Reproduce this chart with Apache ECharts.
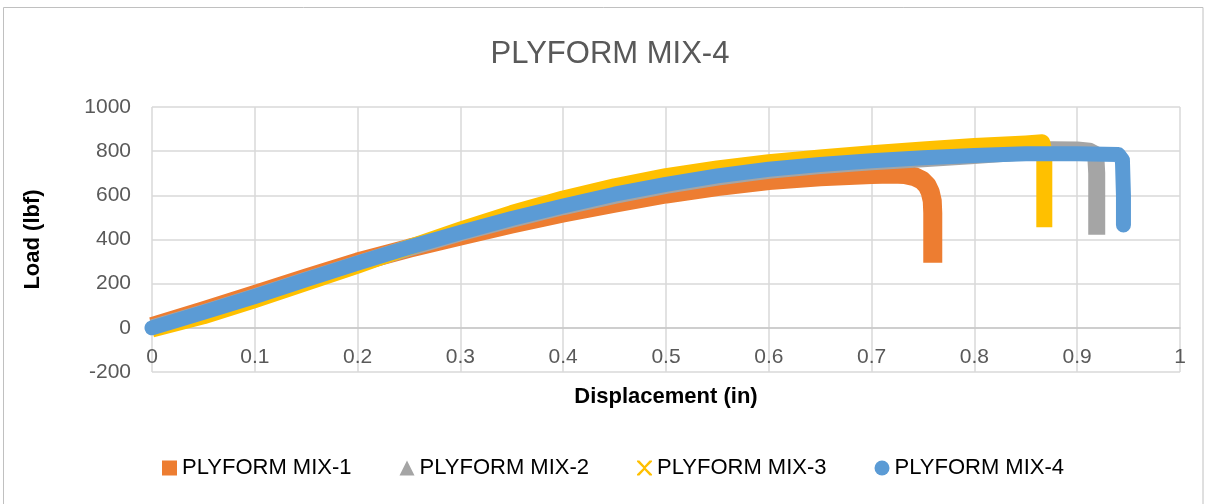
<!DOCTYPE html>
<html>
<head>
<meta charset="utf-8">
<script src="https://cdn.jsdelivr.net/npm/echarts@6/dist/echarts.min.js"></script>
<style>
html,body{margin:0;padding:0;background:#fff;}
#chart{width:1207px;height:504px;}
</style>
</head>
<body>
<div id="chart"></div>
<script>
const chartTitle = 'PLYFORM MIX-4';
const seriesNames = ['PLYFORM MIX-1', 'PLYFORM MIX-2', 'PLYFORM MIX-3', 'PLYFORM MIX-4'];
const xTicks = [0, 0.1, 0.2, 0.3, 0.4, 0.5, 0.6, 0.7, 0.8, 0.9, 1];
const yTicks = [-200, 0, 200, 400, 600, 800, 1000];

const mix1X = [0, 0.05, 0.1, 0.15, 0.2, 0.25, 0.3, 0.35, 0.4, 0.45, 0.5, 0.55, 0.6, 0.65, 0.7, 0.72, 0.732, 0.742, 0.749, 0.754, 0.757, 0.759, 0.7595, 0.7595];
const mix1Y = [6, 77, 151, 226, 298, 360, 416, 470, 520, 565, 606, 640, 667, 684, 694, 697, 694, 684, 668, 645, 615, 575, 520, 295];

const mix2X = [0, 0.05, 0.1, 0.15, 0.2, 0.25, 0.3, 0.35, 0.4, 0.45, 0.5, 0.55, 0.6, 0.65, 0.7, 0.75, 0.8, 0.85, 0.875, 0.9, 0.912, 0.918, 0.919, 0.919, 0.919];
const mix2Y = [0, 68, 140, 216, 290, 362, 430, 492, 549, 600, 645, 683, 713, 735, 752, 766, 780, 797, 806, 805, 800, 785, 700, 560, 422];

const mix3X = [0, 0.05, 0.1, 0.15, 0.2, 0.25, 0.3, 0.35, 0.4, 0.45, 0.5, 0.55, 0.6, 0.65, 0.7, 0.75, 0.8, 0.85, 0.866, 0.868, 0.868, 0.868];
const mix3Y = [-8, 52, 126, 203, 282, 365, 445, 520, 586, 641, 687, 722, 750, 772, 791, 808, 823, 835, 840, 800, 650, 455];

const mix4X = [0, 0.05, 0.1, 0.15, 0.2, 0.25, 0.3, 0.35, 0.4, 0.45, 0.5, 0.55, 0.6, 0.65, 0.7, 0.75, 0.8, 0.85, 0.9, 0.94, 0.944, 0.945, 0.945];
const mix4Y = [0, 70, 142, 218, 293, 365, 432, 495, 552, 605, 650, 688, 718, 740, 757, 770, 780, 788, 788, 785, 760, 600, 466];

const colors = ['#ED7D31', '#A5A5A5', '#FFC000', '#5B9BD5'];
const xPath = 'path://M0,0L1.6,0L5,3.6L8.4,0L10,0L10,0.8L5.8,5L10,9.2L10,10L8.4,10L5,6.4L1.6,10L0,10L0,9.2L4.2,5L0,0.8Z';
const icons = ['rect', 'triangle', xPath, 'circle'];

function zip(xs, ys) { return xs.map((x, i) => [x, ys[i]]); }
const allX = [mix1X, mix2X, mix3X, mix4X];
const allY = [mix1Y, mix2Y, mix3Y, mix4Y];
const widths = [19, 17, 16, 15];
const caps = ['butt', 'butt', 'butt', 'round'];

const FONT = '"Liberation Sans", Arial, sans-serif';
const chart = echarts.init(document.getElementById('chart'));
chart.setOption({
  animation: false,
  backgroundColor: '#fff',
  graphic: [
    { type: 'rect', shape: { x: 3.5, y: 7.5, width: 1199.5, height: 500 }, style: { fill: 'none', stroke: '#c0c0c0', lineWidth: 1 }, silent: true },
    { type: 'text', x: 610, y: 54, style: { text: chartTitle, font: '300 31px ' + FONT, fill: '#595959', textAlign: 'center', textVerticalAlign: 'middle' } }
  ],
  legend: {
    left: 157, top: 452, itemWidth: 15, itemHeight: 15, itemGap: 48,
    textStyle: { fontFamily: FONT, fontSize: 22, color: '#000' },
    data: seriesNames.map((n, i) => ({ name: n, icon: icons[i], itemStyle: { color: colors[i] } }))
  },
  grid: { left: 152, right: 27, top: 107, bottom: 132, containLabel: false },
  xAxis: {
    type: 'value', min: xTicks[0], max: xTicks[xTicks.length - 1], interval: 0.1,
    offset: -44.2,
    name: 'Displacement (in)', nameLocation: 'middle', nameGap: 58,
    nameTextStyle: { fontFamily: FONT, fontSize: 22, fontWeight: 'bold', color: '#000' },
    axisLine: { show: true, onZero: false, lineStyle: { color: '#c8c8c8', width: 1.5 } },
    axisTick: { show: false },
    axisLabel: { margin: 19, fontFamily: FONT, fontSize: 21, color: '#595959', formatter: v => String(+v.toFixed(1)) },
    splitLine: { show: true, lineStyle: { color: '#d9d9d9', width: 1.5 } }
  },
  yAxis: {
    type: 'value', min: yTicks[0], max: yTicks[yTicks.length - 1], interval: 200,
    name: 'Load (lbf)', nameLocation: 'middle', nameGap: 108, nameRotate: 90,
    nameTextStyle: { fontFamily: FONT, fontSize: 22, fontWeight: 'bold', color: '#000' },
    axisLine: { show: false },
    axisTick: { show: false },
    axisLabel: { margin: 21, fontFamily: FONT, fontSize: 21, color: '#595959', formatter: v => String(v) },
    splitLine: { show: true, lineStyle: { color: '#d9d9d9', width: 1.5 } }
  },
  series: seriesNames.map((n, i) => ({
    name: n, type: 'line', data: zip(allX[i], allY[i]),
    showSymbol: false, symbol: icons[i], smooth: false,
    itemStyle: { color: colors[i] },
    lineStyle: { color: colors[i], width: widths[i], cap: caps[i], join: 'round' }
  }))
});
</script>
</body>
</html>
